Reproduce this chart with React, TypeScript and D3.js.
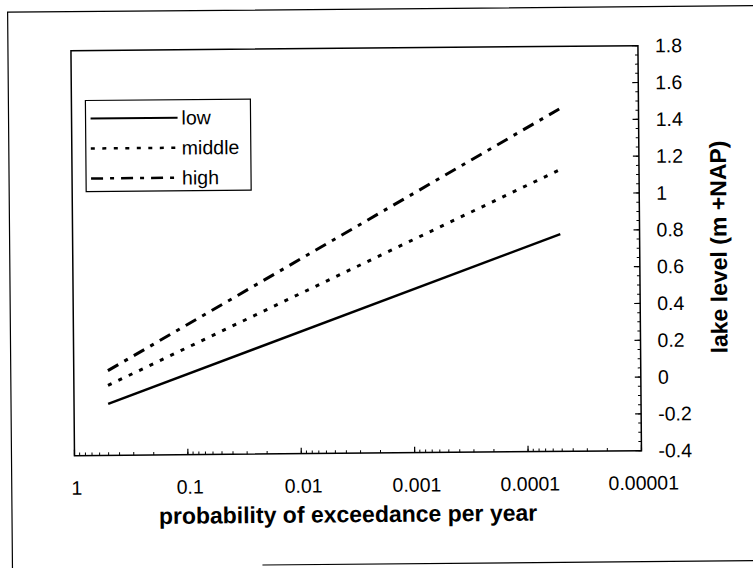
import React from "react";
import * as d3 from "d3";

// ---- data ----
const PROBABILITY = [0.5, 0.00005];
const LOW = [-0.12, 0.78];
const MIDDLE = [-0.02, 1.13];
const HIGH = [0.06, 1.46];
const SERIES_NAMES = ["low", "middle", "high"];
const X_TICKS = [1, 0.1, 0.01, 0.001, 0.0001, 0.00001];
const X_TICK_LABELS = ["1", "0.1", "0.01", "0.001", "0.0001", "0.00001"];
const Y_TICKS = [-0.4, -0.2, 0, 0.2, 0.4, 0.6, 0.8, 1, 1.2, 1.4, 1.6, 1.8];
const Y_TICK_LABELS = ["-0.4", "-0.2", "0", "0.2", "0.4", "0.6", "0.8", "1", "1.2", "1.4", "1.6", "1.8"];
const X_TITLE = "probability of exceedance per year";
const Y_TITLE = "lake level (m +NAP)";

const W = 753;
const H = 568;
const PL = 73, PR = 640, PT = 48, PB = 453;
const FONT = "'Liberation Sans', Arial, sans-serif";

const DASHES = ["none", "4 7.5", "12 7 4 7"];

export default function App() {
  const x = d3.scaleLog().domain([1, 0.00001]).range([PL, PR]);
  const y = d3.scaleLinear().domain([-0.4, 1.8]).range([PB, PT]);
  const line = d3
    .line<[number, number]>()
    .x((d) => x(d[0]))
    .y((d) => y(d[1]));
  const seriesValues = [LOW, MIDDLE, HIGH];
  const series = seriesValues.map((vals) =>
    PROBABILITY.map((p, i) => [p, vals[i]] as [number, number])
  );
  const xMinor = x.ticks();
  const yMinor = y.ticks(44);

  return (
    <svg
      width={W}
      height={H}
      style={{ position: "absolute", left: 0, top: 0, background: "#fff" }}
      fontFamily={FONT}
    >
      <rect x={0} y={0} width={W} height={H} fill="#fff" />
      {/* slight scan skew */}
      <g transform="rotate(-0.5 376 284)">
        {/* outer chart frame (partly visible in scan) */}
        <path d={`M10,${H + 10} L10,9 L${W + 10},9`} fill="none" stroke="#000" strokeWidth={1.2} />
        <path d={`M260,564 L${W + 10},564`} fill="none" stroke="#000" strokeWidth={1.2} />

        {/* plot area frame */}
        <rect x={PL} y={PT} width={PR - PL} height={PB - PT} fill="none" stroke="#000" strokeWidth={1.5} />

        {/* x ticks (inside) */}
        {xMinor.map((t, i) => (
          <line key={"xm" + i} x1={x(t)} x2={x(t)} y1={PB} y2={PB - 3} stroke="#000" strokeWidth={1} />
        ))}
        {X_TICKS.map((t, i) => (
          <line key={"xM" + i} x1={x(t)} x2={x(t)} y1={PB} y2={PB - 6} stroke="#000" strokeWidth={1.2} />
        ))}
        {X_TICKS.map((t, i) => (
          <text key={"xl" + i} x={x(t) + 2} y={492} fontSize={19.5} textAnchor="middle" fill="#000">
            {X_TICK_LABELS[i]}
          </text>
        ))}
        <text x={346} y={522} fontSize={23} fontWeight="bold" textAnchor="middle" fill="#000">
          {X_TITLE}
        </text>

        {/* y ticks on right (inside) */}
        {yMinor.map((t, i) => (
          <line key={"ym" + i} x1={PR} x2={PR - 3} y1={y(t)} y2={y(t)} stroke="#000" strokeWidth={1} />
        ))}
        {Y_TICKS.map((t, i) => (
          <line key={"yM" + i} x1={PR} x2={PR - 6} y1={y(t)} y2={y(t)} stroke="#000" strokeWidth={1.2} />
        ))}
        {Y_TICKS.map((t, i) => (
          <text key={"yl" + i} x={657} y={y(t)} dy="0.35em" fontSize={19.5} textAnchor="start" fill="#000">
            {Y_TICK_LABELS[i]}
          </text>
        ))}
        <text
          transform={`translate(727,250) rotate(-90)`}
          fontSize={23}
          fontWeight="bold"
          textAnchor="middle"
          fill="#000"
        >
          {Y_TITLE}
        </text>

        {/* series */}
        {series.map((s, i) => (
          <path
            key={"s" + i}
            d={line(s) || ""}
            fill="none"
            stroke="#000"
            strokeWidth={i === 0 ? 2.5 : 3}
            strokeDasharray={DASHES[i]}
          />
        ))}

        {/* legend */}
        <rect x={87} y={98} width={165} height={91} fill="#fff" stroke="#000" strokeWidth={1.2} />
        {SERIES_NAMES.map((name, i) => (
          <g key={"lg" + i}>
            <line
              x1={92}
              x2={179}
              y1={116 + i * 30}
              y2={116 + i * 30}
              stroke="#000"
              strokeWidth={i === 0 ? 2 : 2.5}
              strokeDasharray={DASHES[i]}
            />
            <text x={183} y={116 + i * 30} dy="0.35em" fontSize={19.5} fill="#000">
              {name}
            </text>
          </g>
        ))}
      </g>
    </svg>
  );
}
